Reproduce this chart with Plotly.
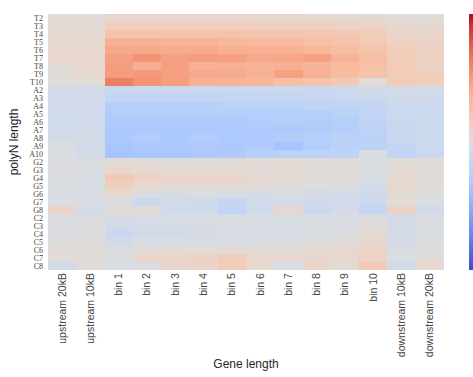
import plotly.graph_objects as go

# Column (gene region) labels
regions = ["upstream 20kB", "upstream 10kB",
           "bin 1", "bin 2", "bin 3", "bin 4", "bin 5",
           "bin 6", "bin 7", "bin 8", "bin 9", "bin 10",
           "downstream 10kB", "downstream 20kB"]

# Row (homopolymer run) labels
poly_t = ["T2", "T3", "T4", "T5", "T6", "T7", "T8", "T9", "T10"]
poly_a = ["A2", "A3", "A4", "A5", "A6", "A7", "A8", "A9", "A10"]
poly_g = ["G2", "G3", "G4", "G5", "G6", "G7", "G8"]
poly_c = ["C2", "C3", "C4", "C5", "C6", "C7", "C8"]

# Enrichment scores per row, one value per region
t_vals = [
    [0.03, 0.03, 0.09, 0.09, 0.09, 0.09, 0.09, 0.09, 0.09, 0.08, 0.07, 0.05, 0.04, 0.03],
    [0.04, 0.04, 0.17, 0.17, 0.17, 0.17, 0.17, 0.16, 0.16, 0.15, 0.13, 0.12, 0.07, 0.05],
    [0.06, 0.06, 0.26, 0.26, 0.26, 0.26, 0.26, 0.24, 0.24, 0.24, 0.22, 0.19, 0.10, 0.10],
    [0.07, 0.08, 0.38, 0.38, 0.36, 0.36, 0.34, 0.32, 0.31, 0.28, 0.26, 0.21, 0.14, 0.13],
    [0.08, 0.08, 0.42, 0.42, 0.41, 0.42, 0.38, 0.38, 0.38, 0.34, 0.30, 0.26, 0.17, 0.14],
    [0.08, 0.08, 0.47, 0.53, 0.47, 0.48, 0.47, 0.42, 0.44, 0.47, 0.36, 0.30, 0.19, 0.14],
    [0.04, 0.08, 0.48, 0.38, 0.47, 0.38, 0.38, 0.36, 0.38, 0.36, 0.32, 0.28, 0.20, 0.13],
    [0.02, 0.07, 0.49, 0.51, 0.47, 0.42, 0.41, 0.37, 0.47, 0.38, 0.30, 0.26, 0.19, 0.17],
    [0.02, 0.03, 0.62, 0.53, 0.48, 0.38, 0.36, 0.34, 0.28, 0.26, 0.21, 0.03, 0.19, 0.17],
]
a_vals = [
    [-0.08, -0.08, -0.14, -0.14, -0.14, -0.14, -0.14, -0.14, -0.14, -0.14, -0.13, -0.08, -0.08, -0.08],
    [-0.08, -0.08, -0.19, -0.19, -0.19, -0.19, -0.19, -0.19, -0.18, -0.17, -0.15, -0.13, -0.10, -0.10],
    [-0.09, -0.09, -0.26, -0.26, -0.26, -0.25, -0.24, -0.23, -0.22, -0.21, -0.20, -0.17, -0.13, -0.13],
    [-0.09, -0.09, -0.28, -0.28, -0.28, -0.27, -0.27, -0.26, -0.26, -0.26, -0.23, -0.19, -0.13, -0.13],
    [-0.10, -0.10, -0.31, -0.31, -0.31, -0.30, -0.30, -0.29, -0.28, -0.28, -0.26, -0.21, -0.14, -0.13],
    [-0.10, -0.08, -0.32, -0.32, -0.32, -0.31, -0.31, -0.30, -0.32, -0.30, -0.26, -0.21, -0.14, -0.13],
    [-0.08, -0.08, -0.32, -0.28, -0.32, -0.28, -0.31, -0.31, -0.28, -0.26, -0.23, -0.23, -0.14, -0.13],
    [-0.02, -0.08, -0.34, -0.32, -0.32, -0.31, -0.32, -0.30, -0.36, -0.28, -0.24, -0.23, -0.17, -0.13],
    [-0.04, -0.07, -0.36, -0.34, -0.34, -0.32, -0.30, -0.27, -0.24, -0.23, -0.21, -0.02, -0.19, -0.14],
]
g_vals = [
    [0.00, -0.02, 0.04, 0.03, 0.03, 0.03, 0.03, 0.03, 0.03, 0.02, 0.02, -0.03, 0.03, 0.02],
    [-0.02, -0.03, 0.10, 0.06, 0.04, 0.04, 0.04, 0.03, 0.04, 0.04, 0.03, -0.03, 0.05, 0.02],
    [-0.02, -0.04, 0.21, 0.13, 0.10, 0.10, 0.10, 0.07, 0.04, 0.03, 0.02, -0.04, 0.08, 0.03],
    [-0.03, -0.04, 0.15, 0.08, 0.05, 0.05, 0.05, 0.03, 0.01, 0.00, -0.02, -0.07, 0.07, 0.02],
    [-0.03, -0.04, 0.08, -0.03, -0.05, -0.04, -0.04, -0.06, -0.04, -0.07, -0.07, -0.10, 0.04, 0.00],
    [-0.03, -0.04, -0.03, -0.13, -0.10, -0.11, -0.17, -0.10, -0.07, -0.10, -0.10, -0.13, 0.04, -0.04],
    [0.11, -0.07, 0.04, 0.04, -0.10, -0.10, -0.19, -0.10, 0.07, -0.13, -0.06, -0.17, 0.13, -0.08],
]
c_vals = [
    [-0.02, -0.02, -0.06, -0.04, -0.04, -0.04, -0.04, -0.04, -0.04, -0.04, -0.03, -0.02, -0.06, -0.03],
    [-0.02, -0.01, -0.08, -0.07, -0.05, -0.05, -0.04, -0.04, -0.04, -0.03, -0.03, 0.02, -0.07, -0.03],
    [-0.02, 0.00, -0.14, -0.08, -0.08, -0.07, -0.05, -0.05, -0.04, -0.03, -0.02, 0.04, -0.07, -0.03],
    [0.00, 0.02, -0.08, -0.04, -0.03, -0.03, -0.03, -0.02, -0.02, 0.00, 0.03, 0.08, -0.06, -0.02],
    [0.02, 0.03, -0.02, 0.03, 0.04, 0.03, 0.04, 0.04, 0.04, 0.07, 0.07, 0.11, -0.04, 0.00],
    [0.02, 0.03, -0.02, 0.10, 0.10, 0.13, 0.19, 0.08, 0.07, 0.08, 0.08, 0.13, -0.04, 0.02],
    [-0.08, 0.04, -0.04, -0.02, 0.10, 0.10, 0.19, 0.08, -0.04, 0.10, 0.04, 0.21, -0.08, 0.08],
]

rows = poly_t + poly_a + poly_g + poly_c
z = t_vals + a_vals + g_vals + c_vals

# Moreland cool-warm diverging colormap
coolwarm_rgb = [
    (59, 76, 192), (68, 90, 204), (77, 104, 215), (87, 117, 225),
    (98, 130, 234), (108, 142, 241), (119, 154, 247), (130, 165, 251),
    (141, 176, 254), (152, 185, 255), (163, 194, 255), (174, 201, 253),
    (184, 208, 249), (194, 213, 244), (204, 217, 238), (213, 219, 230),
    (221, 221, 221), (229, 216, 209), (236, 211, 197), (241, 204, 185),
    (245, 196, 173), (247, 187, 160), (247, 177, 148), (247, 166, 135),
    (244, 154, 123), (241, 141, 111), (236, 127, 99), (229, 112, 88),
    (222, 96, 77), (213, 80, 66), (203, 62, 56), (192, 40, 47),
    (180, 4, 38),
]
n = len(coolwarm_rgb) - 1
coolwarm = [[i / n, "rgb(%d,%d,%d)" % c] for i, c in enumerate(coolwarm_rgb)]

W, H = 473, 377
L, R, T, B = 48, 29, 14, 107
plot_w = W - L - R

fig = go.Figure(go.Heatmap(
    x=regions, y=rows, z=z,
    zmin=-1, zmax=1,
    colorscale=coolwarm,
    xgap=0, ygap=0,
    colorbar=dict(
        x=(469 - L) / plot_w, xanchor="left", xref="paper", xpad=0,
        y=0.5, yanchor="middle", len=1.0, lenmode="fraction", ypad=0,
        thickness=12, outlinewidth=0,
        showticklabels=False, ticks="",
    ),
))

fig.update_layout(
    width=W, height=H,
    margin=dict(l=L, r=R, t=T, b=B, autoexpand=False),
    paper_bgcolor="white", plot_bgcolor="white",
    font=dict(family="Liberation Sans, Arial, sans-serif", color="#262626"),
    xaxis=dict(
        title=dict(text="Gene length", font=dict(size=12, color="#262626"), standoff=3),
        tickangle=-90, ticks="", showgrid=False, zeroline=False,
        tickfont=dict(size=10.5, color="#444444"),
        automargin=False,
    ),
    yaxis=dict(
        title=dict(text="polyN length", font=dict(size=12, color="#262626"), standoff=8),
        autorange="reversed", ticks="", showgrid=False, zeroline=False,
        tickmode="array", tickvals=rows, ticktext=rows,
        tickfont=dict(family="Liberation Serif, DejaVu Serif, serif", size=8, color="#444444"),
        automargin=False, ticklabelstandoff=4,
    ),
)

fig.write_html("out.html")
